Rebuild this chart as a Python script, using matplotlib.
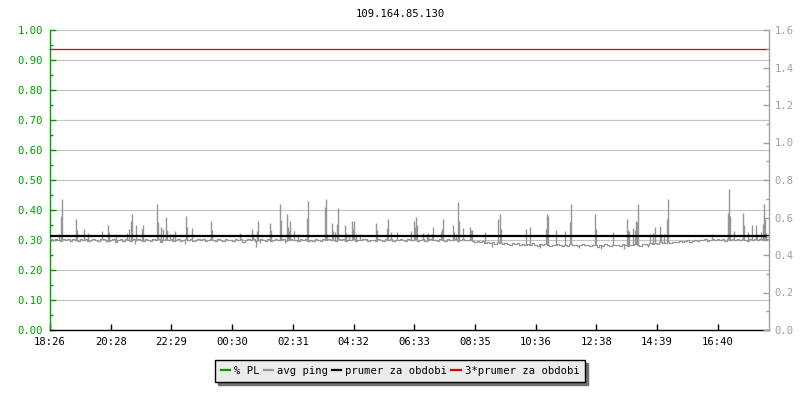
import matplotlib
matplotlib.use("Agg")
import matplotlib.pyplot as plt
import numpy as np
from matplotlib.lines import Line2D
from matplotlib.ticker import MultipleLocator

# ---------------- data ----------------
title = "109.164.85.130"
x_tick_labels = ["18:26", "20:28", "22:29", "00:30", "02:31", "04:32",
                 "06:33", "08:35", "10:36", "12:38", "14:39", "16:40"]
x_tick_step = 121.6      # minutes between labelled ticks
span_minutes = 1440      # whole period shown
base_step = 5            # minutes per baseline sample

# avg ping baseline (left scale), one value per 5 minutes (one row = 1 hour)
avg_ping_base = [
    0.303, 0.299, 0.305, 0.301, 0.297, 0.304, 0.300, 0.302, 0.296, 0.303, 0.301, 0.298,
    0.302, 0.300, 0.305, 0.297, 0.301, 0.303, 0.299, 0.296, 0.302, 0.304, 0.300, 0.298,
    0.301, 0.303, 0.295, 0.300, 0.302, 0.298, 0.304, 0.301, 0.297, 0.303, 0.299, 0.302,
    0.300, 0.296, 0.303, 0.301, 0.298, 0.305, 0.300, 0.302, 0.294, 0.301, 0.303, 0.299,
    0.302, 0.298, 0.300, 0.304, 0.297, 0.301, 0.303, 0.299, 0.302, 0.296, 0.300, 0.303,
    0.299, 0.302, 0.298, 0.301, 0.304, 0.300, 0.296, 0.302, 0.301, 0.298, 0.303, 0.300,
    0.301, 0.297, 0.303, 0.300, 0.302, 0.295, 0.301, 0.304, 0.299, 0.302, 0.298, 0.301,
    0.303, 0.300, 0.298, 0.302, 0.296, 0.301, 0.303, 0.299, 0.301, 0.304, 0.297, 0.300,
    0.302, 0.299, 0.301, 0.297, 0.303, 0.300, 0.302, 0.298, 0.301, 0.296, 0.303, 0.300,
    0.298, 0.302, 0.300, 0.304, 0.299, 0.301, 0.297, 0.303, 0.300, 0.302, 0.298, 0.301,
    0.300, 0.303, 0.297, 0.301, 0.299, 0.302, 0.304, 0.298, 0.301, 0.300, 0.296, 0.302,
    0.301, 0.298, 0.303, 0.300, 0.302, 0.297, 0.301, 0.299, 0.303, 0.300, 0.298, 0.302,
    0.299, 0.301, 0.304, 0.298, 0.300, 0.302, 0.296, 0.301, 0.303, 0.299, 0.301, 0.298,
    0.302, 0.300, 0.297, 0.303, 0.301, 0.299, 0.302, 0.298, 0.300, 0.304, 0.299, 0.301,
    0.300, 0.297, 0.295, 0.298, 0.293, 0.296, 0.291, 0.294, 0.290, 0.293, 0.288, 0.292,
    0.289, 0.286, 0.291, 0.287, 0.284, 0.289, 0.286, 0.290, 0.285, 0.288, 0.283, 0.287,
    0.285, 0.289, 0.284, 0.281, 0.286, 0.283, 0.288, 0.284, 0.280, 0.285, 0.282, 0.287,
    0.283, 0.279, 0.284, 0.281, 0.286, 0.282, 0.285, 0.280, 0.284, 0.287, 0.282, 0.285,
    0.281, 0.285, 0.282, 0.278, 0.284, 0.281, 0.286, 0.283, 0.280, 0.285, 0.282, 0.284,
    0.281, 0.286, 0.283, 0.280, 0.285, 0.282, 0.287, 0.284, 0.281, 0.286, 0.288, 0.285,
    0.289, 0.286, 0.290, 0.288, 0.292, 0.289, 0.291, 0.294, 0.290, 0.293, 0.295, 0.292,
    0.296, 0.293, 0.297, 0.299, 0.295, 0.298, 0.300, 0.297, 0.301, 0.299, 0.302, 0.298,
    0.301, 0.303, 0.299, 0.302, 0.300, 0.304, 0.298, 0.302, 0.301, 0.303, 0.299, 0.302,
    0.300, 0.303, 0.301, 0.298, 0.304, 0.300, 0.302, 0.299, 0.303, 0.301, 0.300, 0.302,
]

# short-lived avg ping samples (minute from start, value)
ping_spikes = [
    (19, 0.319), (23, 0.38), (25, 0.437), (53, 0.37), (55, 0.333), (69, 0.336),
    (76, 0.322), (105, 0.33), (117, 0.35), (119, 0.328), (133, 0.32), (155, 0.322),
    (158, 0.336), (163, 0.363), (165, 0.387), (173, 0.35), (185, 0.336), (187, 0.35),
    (215, 0.42), (217, 0.361), (223, 0.343), (226, 0.336), (233, 0.377), (235, 0.333),
    (241, 0.32), (247, 0.32), (250, 0.33), (273, 0.38), (275, 0.343), (284, 0.339),
    (323, 0.363), (325, 0.333),
    (380, 0.322), (405, 0.336), (407, 0.32), (415, 0.33), (417, 0.363), (441, 0.356),
    (443, 0.333), (461, 0.42), (463, 0.367), (475, 0.387), (477, 0.343), (479, 0.33),
    (481, 0.363), (489, 0.33), (497, 0.32), (515, 0.373), (517, 0.43), (551, 0.41),
    (553, 0.437), (555, 0.32), (565, 0.357), (567, 0.33), (571, 0.328), (575, 0.353),
    (577, 0.407), (591, 0.35), (593, 0.322), (599, 0.32), (605, 0.363), (607, 0.336),
    (609, 0.363), (613, 0.32), (621, 0.32), (653, 0.357), (655, 0.333), (675, 0.34),
    (677, 0.37), (683, 0.328), (695, 0.328),
    (724, 0.33), (730, 0.363), (732, 0.343), (734, 0.377), (736, 0.35), (748, 0.322),
    (756, 0.32), (758, 0.325), (766, 0.32), (768, 0.343), (784, 0.328), (786, 0.336),
    (788, 0.37), (808, 0.35), (810, 0.326), (814, 0.32), (818, 0.427), (820, 0.363),
    (828, 0.34), (842, 0.343), (844, 0.333), (846, 0.333), (872, 0.326), (898, 0.37),
    (902, 0.387), (904, 0.336), (954, 0.336), (962, 0.343), (994, 0.336), (996, 0.387),
    (998, 0.38), (1014, 0.333), (1032, 0.33), (1042, 0.36), (1044, 0.42),
    (1092, 0.387), (1094, 0.336), (1128, 0.326), (1156, 0.37), (1158, 0.333),
    (1160, 0.33), (1168, 0.34), (1172, 0.333), (1174, 0.363), (1176, 0.36),
    (1178, 0.42), (1202, 0.32), (1208, 0.322), (1212, 0.343), (1222, 0.346),
    (1224, 0.32), (1230, 0.32), (1236, 0.37), (1238, 0.437), (1326, 0.32),
    (1357, 0.39), (1359, 0.47), (1361, 0.38), (1369, 0.33), (1387, 0.39),
    (1389, 0.35), (1397, 0.326), (1405, 0.35), (1413, 0.35), (1415, 0.32),
    (1423, 0.326), (1427, 0.353), (1429, 0.42), (1431, 0.37), (1433, 0.322),
]

# short dips of avg ping (minute from start, value)
ping_dips = [
    (112, 0.294), (171, 0.287), (270, 0.288), (412, 0.278), (420, 0.289),
    (470, 0.290), (885, 0.276), (981, 0.272), (1060, 0.272), (1104, 0.271),
    (1150, 0.270), (1198, 0.276),
]

prumer = 0.3123          # mean over period
prumer_factor = 3        # 3*prumer line

legend_labels = ["% PL", "avg ping", "prumer za obdobi", "3*prumer za obdobi"]

# ---------------- style ----------------
FONT = ["DejaVu Sans Mono"]
plt.rcParams["font.family"] = FONT
FS = 7.6
GREEN = "#00a000"
GRAY = "#969696"
AXGRAY = "#a0a0a0"
GRID = "#c4c4c4"
RED = "#e00000"

fig = plt.figure(figsize=(8, 4), dpi=100)
fig.patch.set_facecolor("white")
ax = fig.add_axes([50 / 800, 70 / 400, 719 / 800, 300 / 400])

# baseline as steps
t_base = np.arange(len(avg_ping_base) + 1) * base_step
v_base = np.array(avg_ping_base + [avg_ping_base[-1]])
ax.step(t_base, v_base, where="post", color=GRAY, lw=0.9, zorder=3)

def base_at(m):
    return avg_ping_base[min(int(m // base_step), len(avg_ping_base) - 1)]

for m, v in ping_spikes + ping_dips:
    ax.vlines(m, base_at(m), v, color=GRAY, lw=1.0, zorder=3)

ax.axhline(prumer, color="black", lw=1.6, zorder=5)
ax.axhline(prumer * prumer_factor, color=RED, lw=0.9, zorder=5)

ax.set_xlim(0, span_minutes)
ax.set_ylim(0, 1.0)

# grid
ax.yaxis.set_major_locator(MultipleLocator(0.1))
ax.yaxis.set_minor_locator(MultipleLocator(0.05))
ax.grid(axis="y", which="major", color=GRID, lw=0.8, zorder=1)
ax.set_axisbelow(True)

ax.spines["top"].set_visible(False)
ax.spines["right"].set_visible(False)
ax.spines["left"].set_color(GREEN)
ax.spines["bottom"].set_color("black")
ax.spines["left"].set_linewidth(1.0)
ax.spines["bottom"].set_linewidth(1.0)

ax.set_yticks(np.arange(0, 1.01, 0.1))
ax.set_yticklabels([f"{v:.2f}" for v in np.arange(0, 1.01, 0.1)])
ax.tick_params(axis="y", which="major", direction="in", length=4, width=1,
               colors=GREEN, labelsize=FS, pad=5)
ax.tick_params(axis="y", which="minor", direction="in", length=2.5, width=1,
               colors=GREEN)

xt = np.arange(len(x_tick_labels)) * x_tick_step
ax.set_xticks(xt)
ax.set_xticklabels(x_tick_labels)
ax.tick_params(axis="x", direction="in", length=4, width=1, colors="black",
               labelsize=FS, pad=5)

# right axis
ax2 = ax.twinx()
ax2.set_ylim(0, 1.6)
ax2.yaxis.set_major_locator(MultipleLocator(0.2))
ax2.yaxis.set_minor_locator(MultipleLocator(0.1))
ax2.set_yticks(np.arange(0, 1.61, 0.2))
ax2.set_yticklabels([f"{v:.1f}" for v in np.arange(0, 1.61, 0.2)])
for s in ["top", "left", "bottom"]:
    ax2.spines[s].set_visible(False)
ax2.spines["right"].set_color(AXGRAY)
ax2.spines["right"].set_linewidth(1.0)
ax2.tick_params(axis="y", which="major", direction="in", length=4, width=1,
                colors=AXGRAY, labelsize=FS, pad=4)
ax2.tick_params(axis="y", which="minor", direction="in", length=2.5, width=1,
                colors=AXGRAY)

fig.text(0.5, 1 - 14 / 400, title, ha="center", va="center", fontsize=FS,
         color="black", family=FONT)

handles = [Line2D([], [], color=GREEN, lw=1.6),
           Line2D([], [], color=GRAY, lw=1.6),
           Line2D([], [], color="black", lw=1.6),
           Line2D([], [], color=RED, lw=1.6)]
leg = fig.legend(handles, legend_labels, loc="center",
                 bbox_to_anchor=(0.5, 1 - 371 / 400), ncol=4,
                 fontsize=FS, frameon=True, fancybox=False,
                 shadow={"color": "#707070", "alpha": 1.0},
                 handlelength=0.9, handletextpad=0.35, columnspacing=0.4,
                 borderpad=0.55, borderaxespad=0)
leg.get_frame().set_facecolor("#ebebeb")
leg.get_frame().set_edgecolor("black")
leg.get_frame().set_linewidth(1.0)
leg.get_frame().set_alpha(1.0)

fig.savefig("out.png", dpi=100, facecolor="white")
